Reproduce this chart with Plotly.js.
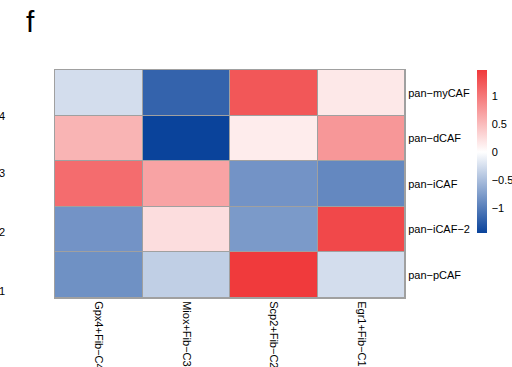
<!DOCTYPE html>
<html>
<head>
<meta charset="utf-8">
<script src="https://cdn.plot.ly/plotly-3.0.1.min.js"></script>
<style>html,body{margin:0;padding:0;background:#fff;}</style>
</head>
<body>
<div id="chart" style="width:512px;height:367px;"></div>
<script>
// Columns (clusters) and rows (CAF signatures)
const columns = ["Gpx4+Fib\u2212C4", "Miox+Fib\u2212C3", "Scp2+Fib\u2212C2", "Egr1+Fib\u2212C1"];
const rows = ["pan\u2212myCAF", "pan\u2212dCAF", "pan\u2212iCAF", "pan\u2212iCAF\u22122", "pan\u2212pCAF"];

// Scaled scores, one array per row (in column order)
const myCAF  = [-0.26, -1.20,  1.25,  0.17];
const dCAF   = [ 0.56, -1.45,  0.14,  0.77];
const iCAF   = [ 1.09,  0.68, -0.83, -0.92];
const iCAF2  = [-0.83,  0.25, -0.78,  1.36];
const pCAF   = [-0.85, -0.37,  1.46, -0.26];

const colorbarTicks = [-1, -0.5, 0, 0.5, 1];
const zMin = -1.45, zMax = 1.47;

// Fragments of the neighbouring panel's labels cut at the left edge
const leftFragments = ["4", "3", "2", "1"];
const leftFragmentY = [116, 173, 232, 291];

const W = 512, H = 367;
const m = {l: 55, r: 107, t: 70, b: 69, autoexpand: false};
const pw = W - m.l - m.r, ph = H - m.t - m.b;
const font = "Liberation Sans, Arial, Helvetica, sans-serif";

const trace = {
  type: "heatmap",
  x: columns,
  y: rows,
  z: [myCAF, dCAF, iCAF, iCAF2, pCAF],
  zmin: zMin, zmax: zMax,
  colorscale: [
    [0, "#0a439b"],
    [(0 - zMin) / (zMax - zMin), "#ffffff"],
    [1, "#f0393b"]
  ],
  xgap: 1, ygap: 1,
  hoverinfo: "skip",
  colorbar: {
    x: (477 - m.l) / pw, xanchor: "left", xref: "paper",
    y: 1, yanchor: "top", yref: "paper",
    len: 163, lenmode: "pixels",
    thickness: 10, thicknessmode: "pixels",
    outlinewidth: 0, xpad: 0, ypad: 0,
    tickvals: colorbarTicks,
    ticks: "outside", ticklen: 3, tickcolor: "rgba(0,0,0,0)",
    tickfont: {family: font, size: 11, color: "#000"}
  }
};

const annotations = [{
  text: "f", xref: "paper", yref: "paper",
  x: (24 - m.l) / pw, y: (H - m.b - 21) / ph,
  xanchor: "left", yanchor: "middle", showarrow: false,
  font: {family: font, size: 30, color: "#000"}
}];
leftFragments.forEach((t, i) => {
  annotations.push({
    text: t, xref: "paper", yref: "paper",
    x: (7 - m.l) / pw, y: (H - m.b - leftFragmentY[i]) / ph,
    xanchor: "right", yanchor: "middle", showarrow: false,
    font: {family: font, size: 11, color: "#000"}
  });
});

const layout = {
  width: W, height: H,
  margin: m,
  paper_bgcolor: "#ffffff",
  plot_bgcolor: "#a0a0a0",
  showlegend: false,
  xaxis: {
    type: "category", side: "bottom", tickangle: 90,
    ticks: "", showgrid: false, zeroline: false,
    showline: true, mirror: true, linecolor: "#a0a0a0", linewidth: 1,
    tickfont: {family: font, size: 11, color: "#000"},
    automargin: false, fixedrange: true
  },
  yaxis: {
    type: "category", side: "right", autorange: "reversed",
    ticks: "", showgrid: false, zeroline: false,
    showline: true, mirror: true, linecolor: "#a0a0a0", linewidth: 1,
    tickfont: {family: font, size: 11, color: "#000"},
    automargin: false, fixedrange: true
  },
  annotations: annotations
};

Plotly.newPlot("chart", [trace], layout, {displayModeBar: false, staticPlot: true});
</script>
</body>
</html>
